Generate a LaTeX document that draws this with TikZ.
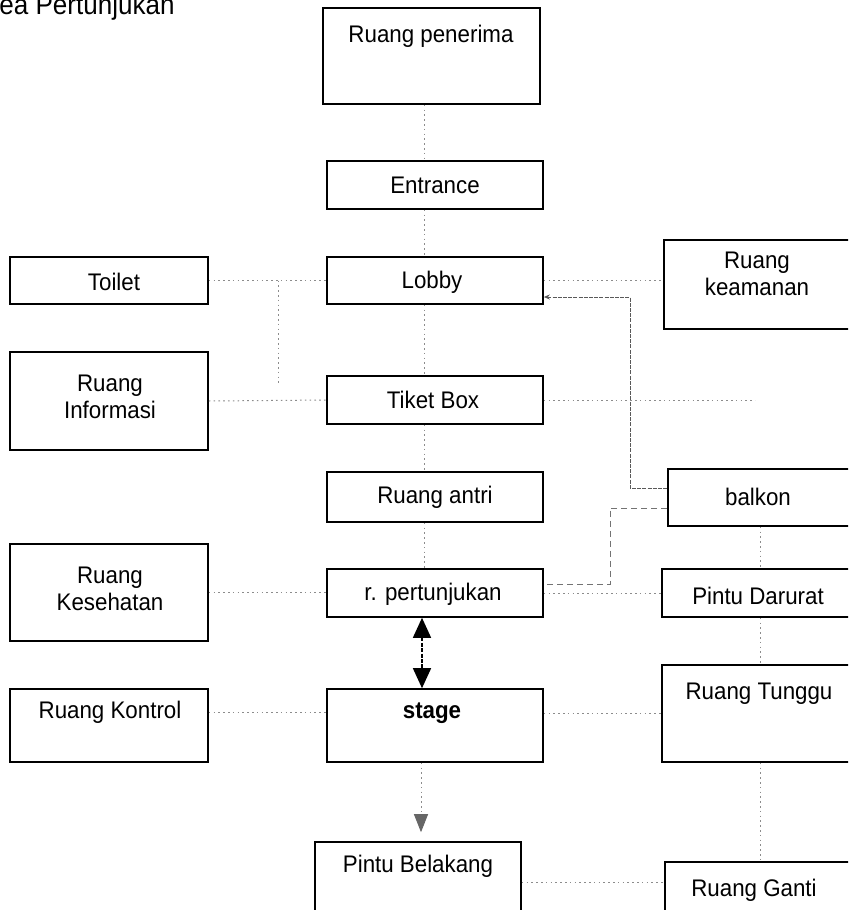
\documentclass[tikz,border=0pt]{standalone}
\usepackage{fontspec}
\setmainfont{Liberation Sans}[FakeStretch=0.93]
\usetikzlibrary{arrows.meta}
\begin{document}
\begin{tikzpicture}[x=0.5pt,y=-0.5pt,
  box/.style={draw=black, line width=0.8pt, inner sep=0pt, fill=none},
  lbl/.style={inner sep=0pt, align=center, font=\fontsize{12}{13.5}\selectfont},
  conn/.style={draw=black!45, line width=0.5pt, dash pattern=on 0.8pt off 1.6pt},
  dconn/.style={draw=black!55, line width=0.5pt, dash pattern=on 3pt off 2pt},
  link/.style={draw=black!65, line width=0.5pt, dash pattern=on 2pt off 0.6pt}
]
\useasboundingbox (0,0) rectangle (848,910);
\clip (0,0) rectangle (848,910);

% title
\node[inner sep=0pt, anchor=base west, font=\fontsize{14}{16}\selectfont] (title) at (-1,14) {ea Pertunjukan};

% centre column
\node[box, minimum width=108.5pt, minimum height=48pt] (pen) at (431.5,56) {};
\node[box, minimum width=108pt, minimum height=24pt] (ent) at (435,185) {};
\node[box, minimum width=108pt, minimum height=23.5pt] (lob) at (435,280.5) {};
\node[box, minimum width=108pt, minimum height=24pt] (tik) at (435,400) {};
\node[box, minimum width=108pt, minimum height=25pt] (ant) at (435,497) {};
\node[box, minimum width=108pt, minimum height=24pt] (per) at (435,593) {};
\node[box, minimum width=108pt, minimum height=36.5pt] (stg) at (435,725.5) {};
\node[box, minimum width=103pt, minimum height=44pt] (bel) at (418,886) {};

% left column
\node[box, minimum width=99pt, minimum height=23.5pt] (toi) at (109,280.5) {};
\node[box, minimum width=99pt, minimum height=49pt] (inf) at (109,401) {};
\node[box, minimum width=99pt, minimum height=48.5pt] (kes) at (109,592.5) {};
\node[box, minimum width=99pt, minimum height=36.5pt] (kon) at (109,725.5) {};

% right column
\node[box, minimum width=94pt, minimum height=44.5pt] (kea) at (758,284.5) {};
\node[box, minimum width=92pt, minimum height=28.5pt] (bal) at (760,497.5) {};
\node[box, minimum width=95pt, minimum height=24pt] (dar) at (757,593) {};
\node[box, minimum width=95pt, minimum height=48.5pt] (tun) at (757,713.5) {};
\node[box, minimum width=93.5pt, minimum height=34pt] (gan) at (758.5,896) {};

% labels
\node[lbl] (penT) at (431,36) {Ruang penerima};
\node[lbl] (entT) at (435,185) {Entrance};
\node[lbl] (lobT) at (432,282) {Lobby};
\node[lbl] (tikT) at (433,400) {Tiket Box};
\node[lbl] (antT) at (435,497) {Ruang antri};
\node[lbl] (perT) at (433,594) {r. pertunjukan};
\node[lbl, font=\fontsize{12}{13.5}\selectfont\bfseries] (stgT) at (432,713) {stage};
\node[lbl] (belT) at (418,866) {Pintu Belakang};
\node[lbl] (toiT) at (114,282) {Toilet};
\node[lbl] (infT) at (110,397) {Ruang\\Informasi};
\node[lbl] (kesT) at (110,588.5) {Ruang\\Kesehatan};
\node[lbl] (konT) at (110,712) {Ruang Kontrol};
\node[lbl] (keaT) at (757,273.5) {Ruang\\keamanan};
\node[lbl] (balT) at (758,497) {balkon};
\node[lbl] (darT) at (758,596) {Pintu Darurat};
\node[lbl] (tunT) at (759,694) {Ruang Tunggu};
\node[lbl] (ganT) at (754,890) {Ruang Ganti};

% guide positions for the connectors
\coordinate (colA) at (424,0);
\coordinate (colB) at (422,0);
\coordinate (colC) at (421,0);
\coordinate (colR) at (760,0);
\coordinate (infoEnd) at (278,385);
\coordinate (tikEnd) at (755,400);
\coordinate (turnA) at (630,488);
\coordinate (turnB) at (610,508);

% centre column connectors
\draw[conn] (pen.south -| colA) -- (ent.north -| colA);
\draw[conn] (ent.south -| colA) -- (lob.north -| colA);
\draw[conn] (lob.south -| colA) -- (tik.north -| colA);
\draw[conn] (tik.south -| colA) -- (ant.north -| colA);
\draw[conn] (ant.south -| colA) -- (per.north -| colA);
\draw[black, line width=0.7pt, dash pattern=on 2pt off 0.7pt,
  {Triangle[length=10pt,width=9pt]}-{Triangle[length=10pt,width=9pt]}]
  (per.south -| colB) -- (stg.north -| colB);
\draw[conn, -{Triangle[length=9pt,width=7pt,fill=black!60,color=black!60]}, shorten >=4.5pt]
  (stg.south -| colC) -- (bel.north -| colC);

% left side connectors
\draw[conn] (toi.east) -- (lob.west);
\draw[conn] (infoEnd |- toi.east) -- (infoEnd);
\draw[conn] (inf.east) -- (tik.west);
\draw[conn] (kes.east) -- (kes.east -| per.west);
\draw[conn] ([yshift=6.75pt]kon.east) -- ([yshift=6.75pt]kon.east -| stg.west);

% right side connectors
\draw[conn] (lob.east) -- (lob.east -| kea.west);
\draw[link, {Stealth[length=3pt,width=2.5pt]}-] ([yshift=-8.25pt]lob.east) -| (turnA) -- (turnA -| bal.west);
\draw[conn] (tik.east) -- (tikEnd);
\draw[dconn] ([yshift=-5.25pt]bal.west) -- (turnB) |- ([yshift=4.5pt]per.east);
\draw[conn] (per.east) -- (per.east -| dar.west);
\draw[conn] ([yshift=6.25pt]stg.east) -- ([yshift=6.25pt]stg.east -| tun.west);
\draw[conn] ([yshift=2pt]bel.east) -- ([yshift=2pt]bel.east -| gan.west);
\draw[conn] (bal.south -| colR) -- (dar.north -| colR);
\draw[conn] (dar.south -| colR) -- (tun.north -| colR);
\draw[conn] (tun.south -| colR) -- (gan.north -| colR);
\end{tikzpicture}
\end{document}
